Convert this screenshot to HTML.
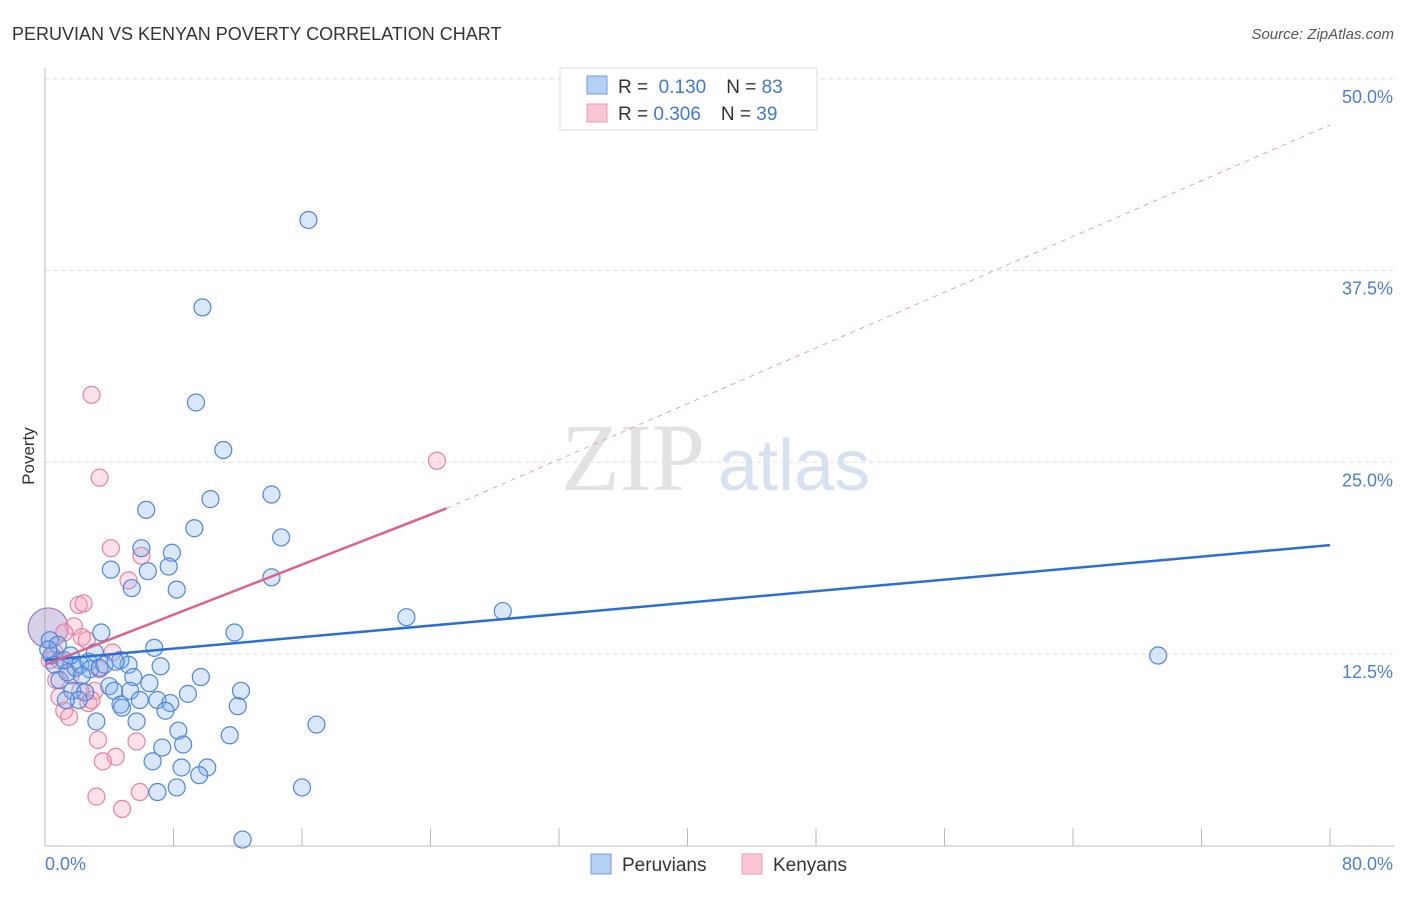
<!DOCTYPE html>
<html><head><meta charset="utf-8"><style>
body{margin:0;background:#fff;font-family:"Liberation Sans",sans-serif}
</style></head><body>
<svg width="1406" height="892" xmlns="http://www.w3.org/2000/svg">
<text x="12" y="40" font-size="18" fill="#333">PERUVIAN VS KENYAN POVERTY CORRELATION CHART</text>
<text x="1394" y="39" font-size="15" fill="#555" font-style="italic" text-anchor="end">Source: ZipAtlas.com</text>
<g id="grid"></g>
<text x="705" y="490" font-size="96" fill="#e2e2e2" font-family="Liberation Serif,serif" text-anchor="end">ZIP</text>
<text x="718" y="490" font-size="72" fill="#d6e2f2">atlas</text>
<line x1="45" y1="68" x2="45" y2="846" stroke="#bbb"/>
<line x1="45" y1="846" x2="1394" y2="846" stroke="#bbb"/>
<g id="ticks"></g>
<text x="34" y="456" font-size="17" fill="#333" transform="rotate(-90 34 456)" text-anchor="middle">Poverty</text>
<text x="45" y="870" font-size="18" fill="#4a7fd0">0.0%</text>
<text x="1393" y="870" font-size="18" fill="#4a7fd0" text-anchor="end">80.0%</text>
<g id="pts"></g>
<g id="lines"></g>
<g>
<rect x="560" y="68" width="257" height="62" fill="#fff" stroke="#ddd"/>
<rect x="587" y="76" width="20" height="18" fill="#b6d0f3" stroke="#6e9de0"/>
<rect x="587" y="104" width="20" height="18" fill="#f8c6d4" stroke="#ec9ab2"/>
<text x="618" y="93" font-size="19" fill="#333">R = <tspan fill="#3f78d4">&#160;0.130</tspan><tspan dx="20">N = </tspan><tspan fill="#3f78d4">83</tspan></text>
<text x="618" y="120" font-size="19" fill="#333">R = <tspan fill="#3f78d4">0.306</tspan><tspan dx="20">N = </tspan><tspan fill="#3f78d4">39</tspan></text>
</g>
<g>
<rect x="591" y="854" width="20" height="20" fill="#b6d0f3" stroke="#6e9de0"/>
<text x="622" y="871" font-size="19" fill="#333">Peruvians</text>
<rect x="742" y="854" width="20" height="20" fill="#f8c6d4" stroke="#ec9ab2"/>
<text x="773" y="871" font-size="19" fill="#333">Kenyans</text>
</g>
</svg>
<script>
const yTicks=[12.5,25,37.5,50];
const yTickLabels=["12.5%","25.0%","37.5%","50.0%"];
const xTicks=[0,8,16,24,32,40,48,56,64,72,80];
const blueX=[16.4,9.8,9.4,11.1,10.3,14.1,6.3,9.3,14.7,6.0,7.9,4.1,6.4,7.7,14.1,5.4,8.2,22.5,28.5,69.3,11.8,3.5,6.8,4.7,5.2,3.1,7.2,9.7,5.5,6.5,4.0,5.3,12.2,8.9,4.3,5.9,7.0,7.8,4.7,12.0,4.8,7.5,3.2,5.7,16.9,8.3,11.5,8.6,7.3,6.7,8.5,10.1,9.6,16.0,8.2,7.0,12.3,0.3,0.4,0.6,0.9,1.4,1.9,2.2,2.7,1.2,2.8,1.7,2.5,3.4,3.7,4.4,2.1,0.8,0.2,1.6,2.3,1.3];
const blueY=[40.8,35.1,28.9,25.8,22.6,22.9,21.9,20.7,20.1,19.4,19.1,18.0,17.9,18.2,17.5,16.8,16.7,14.9,15.3,12.4,13.9,13.9,12.9,12.1,11.8,12.6,11.7,11.0,11.0,10.6,10.4,10.1,10.1,9.9,10.1,9.5,9.5,9.3,9.2,9.1,9.0,8.8,8.1,8.1,7.9,7.5,7.2,6.6,6.4,5.5,5.1,5.1,4.6,3.8,3.8,3.5,0.4,13.4,12.4,11.8,10.8,11.3,11.6,11.8,12.0,12.1,11.5,10.1,10.0,11.6,11.8,12.0,9.5,13.1,12.8,12.4,11.1,9.5];
const pinkX=[2.9,24.4,3.4,4.1,6.0,5.2,2.1,2.4,1.8,2.3,1.2,2.6,4.2,0.6,0.9,1.6,3.4,3.1,0.9,2.7,2.9,1.2,1.5,3.3,5.7,4.4,3.6,3.2,5.9,4.8,0.3,2.2,0.7];
const pinkY=[29.4,25.1,24.0,19.4,18.9,17.3,15.7,15.8,14.3,13.6,13.9,13.4,12.6,12.6,12.1,11.1,11.5,10.1,9.7,9.3,9.5,8.8,8.4,6.9,6.8,5.8,5.5,3.2,3.5,2.4,12.1,10.1,10.8];
const bigX=[0.2],bigY=[14.2];
const blueTrend=[0,12.1,80,19.6];
const pinkTrend=[0,11.8,25.0,22.0,47.0];
const NS="http://www.w3.org/2000/svg";
const sx=v=>45+v/80*1285, sy=v=>845.7-v*15.336;
function mk(t,a,p){const e=document.createElementNS(NS,t);for(const k in a)e.setAttribute(k,a[k]);p.appendChild(e);return e;}
const grid=document.getElementById('grid');
yTicks.forEach((v,i)=>{
 const l=mk('line',{x1:45,x2:1394,y1:sy(v),y2:sy(v),stroke:'#ddd','stroke-dasharray':'4 4'},grid);
 
 
 const t=mk('text',{x:1393,y:sy(v)+24,'font-size':18,fill:'#4a7fd0','text-anchor':'end'},grid);
 t.textContent=yTickLabels[i];
 
 
});
const tk=document.getElementById('ticks');
xTicks.forEach(v=>{
 const l=mk('line',{x1:sx(v),x2:sx(v),y1:828,y2:846,stroke:'#bbb'},tk);
 
 
});
const pts=document.getElementById('pts');
function dot(x,y,r,f,s,name){
 const c=mk('circle',{cx:sx(x),cy:sy(y),r:r,fill:f,stroke:s,'stroke-width':1.2},pts);
 
 
}
bigX.forEach((x,i)=>dot(x,bigY[i],20,'rgba(140,120,190,0.35)','#9a7fb5','big-point'));
pinkX.forEach((x,i)=>dot(x,pinkY[i],8.5,'rgba(242,160,185,0.3)','#e8829f','kenyan-point'));
blueX.forEach((x,i)=>dot(x,blueY[i],8.5,'rgba(130,175,235,0.3)','#4f86d9','peruvian-point'));
const ln=document.getElementById('lines');
let a=mk('line',{x1:sx(blueTrend[0]),y1:sy(blueTrend[1]),x2:sx(blueTrend[2]),y2:sy(blueTrend[3]),stroke:'#2a6fd6','stroke-width':2.5},ln);


let b=mk('line',{x1:sx(pinkTrend[0]),y1:sy(pinkTrend[1]),x2:sx(pinkTrend[2]),y2:sy(pinkTrend[3]),stroke:'#e0608a','stroke-width':2.5},ln);


let c=mk('line',{x1:sx(pinkTrend[2]),y1:sy(pinkTrend[3]),x2:sx(80),y2:sy(pinkTrend[4]),stroke:'#e8a0b8','stroke-width':1,'stroke-dasharray':'5 5'},ln);


</script>
</body></html>
